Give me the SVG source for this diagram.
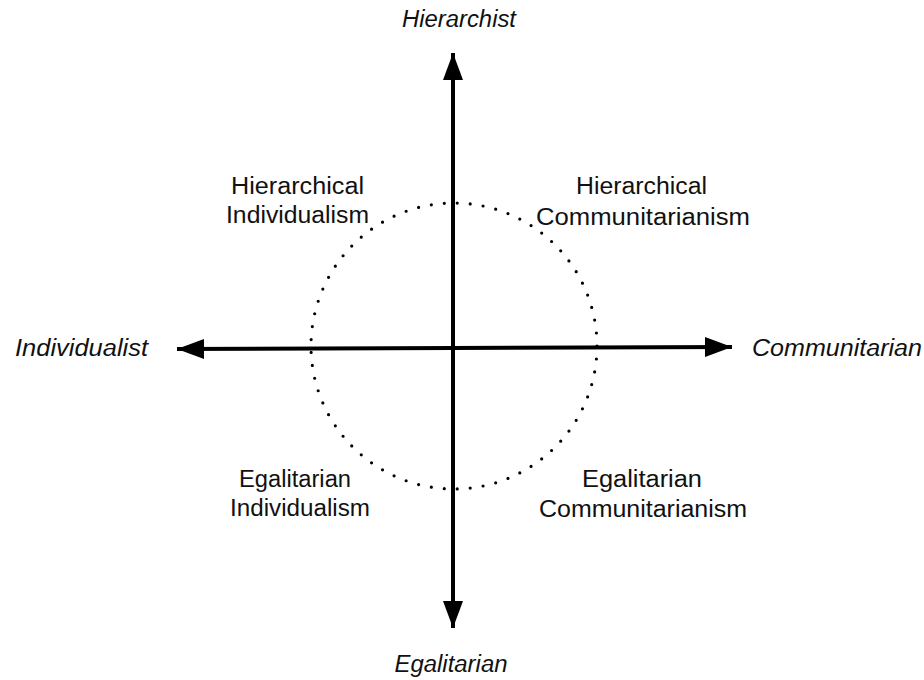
<svg xmlns="http://www.w3.org/2000/svg" width="924" height="680" viewBox="0 0 924 680">
<style>
.t{font-family:"Liberation Sans",Arial,sans-serif;font-size:23px;fill:#111;text-anchor:middle}
.i{font-style:italic;font-size:23px}
.ax{stroke:#000;stroke-width:4;fill:none}
.dot{fill:none;stroke:#000;stroke-width:3.2;stroke-linecap:round;stroke-dasharray:0 1}
</style>
<defs>
<marker id="ah" markerUnits="userSpaceOnUse" markerWidth="30" markerHeight="22" refX="27" refY="10" orient="auto">
<polygon points="0,0 27,10 0,20" fill="#000"/>
</marker>
</defs>
<rect width="924" height="680" fill="#fff"/>
<g id="circle"><circle class="dot" cx="454" cy="346" r="143" pathLength="69"/></g>
<g id="connectors">
<line class="ax" x1="453" y1="348" x2="453" y2="53" marker-end="url(#ah)"/>
<line class="ax" x1="453" y1="348" x2="453" y2="628" marker-end="url(#ah)"/>
<line class="ax" x1="453" y1="348" x2="177" y2="349" marker-end="url(#ah)"/>
<line class="ax" x1="453" y1="348" x2="732" y2="347" marker-end="url(#ah)"/>
</g>
<g id="hierarchist"><text class="t i" x="459" y="27" textLength="114" lengthAdjust="spacingAndGlyphs">Hierarchist</text></g>
<g id="egalitarian"><text class="t i" x="451" y="672" textLength="113" lengthAdjust="spacingAndGlyphs">Egalitarian</text></g>
<g id="individualist"><text class="t i" x="81.5" y="356" textLength="133" lengthAdjust="spacingAndGlyphs">Individualist</text></g>
<g id="communitarian"><text class="t i" x="837" y="356" textLength="170" lengthAdjust="spacingAndGlyphs">Communitarian</text></g>
<g id="hier-ind">
<text class="t" x="297.5" y="194" textLength="133" lengthAdjust="spacingAndGlyphs">Hierarchical</text>
<text class="t" x="297.5" y="223" textLength="143" lengthAdjust="spacingAndGlyphs">Individualism</text>
</g>
<g id="hier-com">
<text class="t" x="641.5" y="194" textLength="131" lengthAdjust="spacingAndGlyphs">Hierarchical</text>
<text class="t" x="643" y="225" textLength="214" lengthAdjust="spacingAndGlyphs">Communitarianism</text>
</g>
<g id="egal-ind">
<text class="t" x="295" y="487" textLength="112" lengthAdjust="spacingAndGlyphs">Egalitarian</text>
<text class="t" x="300" y="516" textLength="140" lengthAdjust="spacingAndGlyphs">Individualism</text>
</g>
<g id="egal-com">
<text class="t" x="642" y="487" textLength="120" lengthAdjust="spacingAndGlyphs">Egalitarian</text>
<text class="t" x="643" y="517" textLength="208" lengthAdjust="spacingAndGlyphs">Communitarianism</text>
</g>
</svg>
